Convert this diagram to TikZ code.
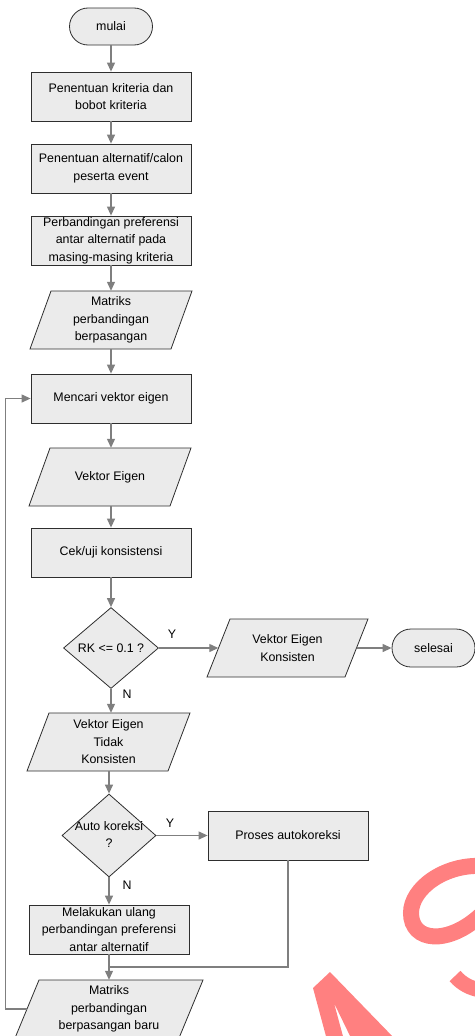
\documentclass[tikz,border=0pt]{standalone}
\usepackage{fontspec}
\setmainfont{Liberation Sans}
\usetikzlibrary{shapes.geometric,shapes.misc,arrows.meta,calc}
\definecolor{boxfill}{HTML}{EBEBEB}
\definecolor{boxline}{HTML}{2E2E2E}
\definecolor{conn}{HTML}{7F7F7F}
\definecolor{wm}{HTML}{FF8080}
% name, x, y, mid-width, height, slant, text
\newcommand\flowpara[7]{%
  \filldraw[pshape] ({#2-#4/2+#6/2},{#3-#5/2}) -- ({#2+#4/2+#6/2},{#3-#5/2}) -- ({#2+#4/2-#6/2},{#3+#5/2}) -- ({#2-#4/2-#6/2},{#3+#5/2}) -- cycle;
  \node[ptext, minimum width=#4pt, minimum height=#5pt] (#1) at (#2,#3) {#7};}
\begin{document}
\begin{tikzpicture}[x=1pt,y=-1pt, font=\fontsize{12.4}{17.5}\selectfont,
  box/.style={draw=boxline, fill=boxfill, line width=0.8pt, minimum width=160pt, minimum height=49pt, inner sep=0pt, align=center},
  term/.style={rounded rectangle, draw=boxline, fill=boxfill, line width=0.8pt, minimum width=83pt, minimum height=37pt, inner sep=0pt},
  dec/.style={diamond, draw=boxline, fill=boxfill, line width=0.8pt, minimum width=95pt, minimum height=81pt, inner sep=0pt},
  pshape/.style={draw=boxline, fill=boxfill, line width=0.8pt},
  ptext/.style={inner sep=0pt, align=center},
  lbl/.style={inner sep=0pt, align=center},
  arr/.style={draw=conn, line width=1.2pt, -{Triangle[length=9pt,width=8pt]}},
  ln/.style={draw=conn, line width=1.2pt}]
\useasboundingbox (0,0) rectangle (474,1036);
% watermark fragments
\draw[wm, line width=16pt] (482,866) .. controls (445,864) and (411,888) .. (411,913) .. controls (411,942) and (448,946) .. (482,914);
\draw[wm, line width=15pt] (455,976) .. controls (462,984) and (470,988) .. (480,990);
\fill[wm] (313,988) -- (330,972) -- (396,1040) -- (352,1040) -- (334,1003) -- (344,1040) -- (327,1040) -- cycle;
% nodes
\node[term] (start) at (111,26.5) {mulai};
\node[box] (b1) at (111,96.5) {Penentuan kriteria dan\\bobot kriteria};
\node[box] (b2) at (111,168.5) {Penentuan alternatif/calon\\peserta event};
\node[box] (b3) at (111,240.5) {Perbandingan preferensi\\antar alternatif pada\\masing-masing kriteria};
\flowpara{p1}{111}{320}{141}{58}{21}{Matriks\\perbandingan\\berpasangan}
\node[box] (b4) at (111,398.5) {Mencari vektor eigen};
\flowpara{p2}{110}{477}{141}{58}{21}{Vektor Eigen}
\node[box] (b5) at (111,552.5) {Cek/uji konsistensi};
\node[dec] (d1) at (111,648) {};
\node[lbl] (d1t) at (d1) {RK <= 0.1 ?};
\flowpara{p3}{287.5}{648}{138}{58}{23}{Vektor Eigen\\Konsisten}
\node[term, minimum height=38pt] (stop) at (433.5,648) {selesai};
\flowpara{p4}{108.5}{742}{141}{58}{22}{Vektor Eigen\\Tidak\\Konsisten}
\node[dec, minimum width=94pt, minimum height=83pt] (d2) at (109,835.5) {};
\node[lbl] (d2t) at (109,834.5) {Auto koreksi\\?};
\node[box] (b7) at (288,835.5) {Proses autokoreksi};
\node[box] (b6) at (109,929.5) {Melakukan ulang\\perbandingan preferensi\\antar alternatif};
\flowpara{p5}{109}{1009}{164}{58}{24}{Matriks\\perbandingan\\berpasangan baru}
% labels
\node[lbl] (y1) at (172,634) {Y};
\node[lbl] (n1) at (127,694) {N};
\node[lbl] (y2) at (170,823) {Y};
\node[lbl] (n2) at (127,885) {N};
% connectors
\coordinate (j) at (109,967);
\coordinate (fb) at (5.5,1009);
\draw[arr] (start.south) -- (start.south |- b1.north);
\draw[arr] (b1.south) -- (b1.south |- b2.north);
\draw[arr] (b2.south) -- (b2.south |- b3.north);
\draw[arr] (b3.south) -- (b3.south |- p1.north);
\draw[arr] (b3.south |- p1.south) -- (b3.south |- b4.north);
\draw[arr] (b4.south) -- (b4.south |- p2.north);
\draw[arr] (b4.south |- p2.south) -- (b4.south |- b5.north);
\draw[arr] (b5.south) -- (d1.north);
\draw[arr] (d1.east) -- (p3.west);
\draw[arr] (p3.east) -- (stop.west);
\draw[arr] (d1.south) -- (d1.south |- p4.north);
\draw[arr] (d2.north |- p4.south) -- (d2.north);
\draw[arr] (d2.east) -- (b7.west);
\draw[arr] (d2.south) -- (b6.north);
\draw[ln] (b7.south) |- (j);
\draw[arr] (b6.south) -- (p5.north);
\draw[arr] (p5.west) -- (fb) |- (b4.west);
\end{tikzpicture}
\end{document}
